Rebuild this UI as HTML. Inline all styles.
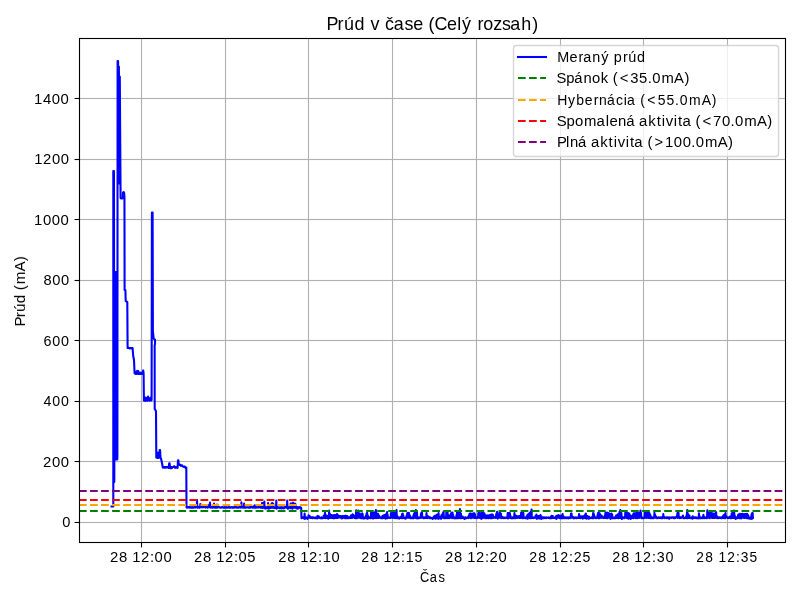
<!DOCTYPE html>
<html><head><meta charset="utf-8"><title>Prúd v čase</title>
<style>html,body{margin:0;padding:0;background:#fff;overflow:hidden}svg{display:block}text{font-family:"Liberation Sans",sans-serif}</style>
</head><body>
<svg width="800" height="600" viewBox="0 0 800 600">
<rect width="800" height="600" fill="#fff"/>
<g stroke="#b0b0b0" stroke-width="1.111">
<line x1="79.5" y1="522.5" x2="785.5" y2="522.5" stroke="#fafafa" stroke-width="3" shape-rendering="crispEdges"/><line x1="79.5" y1="522.5" x2="785.5" y2="522.5" stroke-width="1" shape-rendering="crispEdges"/>
<line x1="79.5" y1="461.5" x2="785.5" y2="461.5" stroke="#fafafa" stroke-width="3" shape-rendering="crispEdges"/><line x1="79.5" y1="461.5" x2="785.5" y2="461.5" stroke-width="1" shape-rendering="crispEdges"/>
<line x1="79.5" y1="401.5" x2="785.5" y2="401.5" stroke="#fafafa" stroke-width="3" shape-rendering="crispEdges"/><line x1="79.5" y1="401.5" x2="785.5" y2="401.5" stroke-width="1" shape-rendering="crispEdges"/>
<line x1="79.5" y1="340.5" x2="785.5" y2="340.5" stroke="#fafafa" stroke-width="3" shape-rendering="crispEdges"/><line x1="79.5" y1="340.5" x2="785.5" y2="340.5" stroke-width="1" shape-rendering="crispEdges"/>
<line x1="79.5" y1="280.5" x2="785.5" y2="280.5" stroke="#fafafa" stroke-width="3" shape-rendering="crispEdges"/><line x1="79.5" y1="280.5" x2="785.5" y2="280.5" stroke-width="1" shape-rendering="crispEdges"/>
<line x1="79.5" y1="219.5" x2="785.5" y2="219.5" stroke="#fafafa" stroke-width="3" shape-rendering="crispEdges"/><line x1="79.5" y1="219.5" x2="785.5" y2="219.5" stroke-width="1" shape-rendering="crispEdges"/>
<line x1="79.5" y1="159.5" x2="785.5" y2="159.5" stroke="#fafafa" stroke-width="3" shape-rendering="crispEdges"/><line x1="79.5" y1="159.5" x2="785.5" y2="159.5" stroke-width="1" shape-rendering="crispEdges"/>
<line x1="79.5" y1="98.5" x2="785.5" y2="98.5" stroke="#fafafa" stroke-width="3" shape-rendering="crispEdges"/><line x1="79.5" y1="98.5" x2="785.5" y2="98.5" stroke-width="1" shape-rendering="crispEdges"/>
<line x1="141.5" y1="38.5" x2="141.5" y2="542.5"/>
<line x1="225.5" y1="38.5" x2="225.5" y2="542.5"/>
<line x1="308.5" y1="38.5" x2="308.5" y2="542.5"/>
<line x1="392.5" y1="38.5" x2="392.5" y2="542.5"/>
<line x1="476.5" y1="38.5" x2="476.5" y2="542.5"/>
<line x1="560.5" y1="38.5" x2="560.5" y2="542.5"/>
<line x1="643.5" y1="38.5" x2="643.5" y2="542.5"/>
<line x1="727.5" y1="38.5" x2="727.5" y2="542.5"/>
</g>
<g stroke="#000" stroke-width="1.111">
<line x1="141.5" y1="542.5" x2="141.5" y2="547.45"/>
<line x1="225.5" y1="542.5" x2="225.5" y2="547.45"/>
<line x1="308.5" y1="542.5" x2="308.5" y2="547.45"/>
<line x1="392.5" y1="542.5" x2="392.5" y2="547.45"/>
<line x1="476.5" y1="542.5" x2="476.5" y2="547.45"/>
<line x1="560.5" y1="542.5" x2="560.5" y2="547.45"/>
<line x1="643.5" y1="542.5" x2="643.5" y2="547.45"/>
<line x1="727.5" y1="542.5" x2="727.5" y2="547.45"/>
<line x1="74.55" y1="522.5" x2="79.5" y2="522.5"/>
<line x1="74.55" y1="461.5" x2="79.5" y2="461.5"/>
<line x1="74.55" y1="401.5" x2="79.5" y2="401.5"/>
<line x1="74.55" y1="340.5" x2="79.5" y2="340.5"/>
<line x1="74.55" y1="280.5" x2="79.5" y2="280.5"/>
<line x1="74.55" y1="219.5" x2="79.5" y2="219.5"/>
<line x1="74.55" y1="159.5" x2="79.5" y2="159.5"/>
<line x1="74.55" y1="98.5" x2="79.5" y2="98.5"/>
</g>
<path d="M111.50,506.50 L113.30,506.50 L113.30,171.00 L113.95,171.00 L114.30,482.00 L114.60,272.00 L114.90,459.50 L115.20,272.00 L115.50,459.50 L115.80,272.00 L116.10,459.50 L116.40,272.00 L116.70,459.50 L117.00,272.00 L117.30,459.50 L117.40,456.00 L117.60,61.00 L118.10,61.00 L118.40,183.50 L118.90,66.50 L119.30,183.50 L119.80,76.50 L120.60,198.00 L121.20,198.60 L122.00,198.40 L122.75,198.30 L123.05,192.50 L123.60,192.00 L124.10,192.60 L124.45,196.50 L124.60,290.00 L125.40,290.00 L125.70,301.00 L126.60,301.50 L127.30,302.00 L127.60,348.00 L128.50,347.50 L129.50,348.50 L130.50,348.00 L131.50,348.50 L132.60,348.00 L133.20,356.00 L134.00,360.00 L134.60,373.50 L135.20,372.30 L135.70,374.00 L136.20,371.80 L136.70,374.00 L137.20,370.80 L137.70,373.80 L138.20,371.00 L138.70,374.00 L139.20,372.40 L139.80,374.00 L140.40,372.60 L141.00,373.90 L141.60,372.80 L142.20,374.00 L142.80,372.50 L143.20,370.40 L143.60,373.00 L143.90,400.50 L144.50,399.00 L145.10,401.00 L145.70,397.50 L146.30,400.50 L146.90,398.00 L147.50,400.80 L148.10,396.50 L148.70,400.20 L149.30,398.80 L149.90,400.60 L150.50,397.80 L151.10,400.50 L151.60,400.00 L151.90,212.50 L152.60,212.50 L152.90,331.00 L153.70,338.60 L155.00,339.60 L155.05,343.60 L154.65,345.60 L154.70,409.00 L156.00,411.00 L156.30,457.50 L156.80,452.60 L157.20,458.00 L157.70,452.90 L158.20,458.00 L158.70,453.20 L159.20,457.60 L159.60,450.00 L160.10,450.00 L160.50,457.60 L161.00,458.60 L162.00,463.00 L162.80,467.50 L163.20,467.32 L163.60,467.10 L164.00,467.75 L164.40,466.99 L164.80,467.60 L165.20,467.38 L165.60,466.98 L166.00,467.56 L166.40,466.95 L166.80,467.46 L167.20,466.99 L167.60,467.02 L168.00,467.45 L168.40,467.97 L168.80,467.06 L169.20,463.20 L169.60,463.20 L170.00,468.13 L170.40,467.65 L170.80,467.42 L171.20,468.17 L171.60,466.96 L172.00,468.02 L172.40,467.28 L172.80,467.09 L173.20,467.05 L173.60,467.00 L174.00,466.20 L174.40,466.20 L174.80,467.66 L175.20,467.73 L175.60,467.38 L176.00,467.61 L176.40,466.98 L176.80,466.98 L177.20,467.17 L177.60,467.78 L178.00,460.30 L178.40,460.30 L178.80,464.30 L179.20,464.78 L179.60,464.46 L180.00,464.89 L180.40,465.25 L180.80,465.65 L181.20,465.31 L181.60,465.25 L182.00,465.32 L182.40,466.14 L182.80,466.42 L183.20,466.43 L183.60,466.50 L184.00,466.91 L184.40,466.75 L184.80,466.55 L185.20,467.25 L185.60,468.19 L186.30,467.50 L186.50,507.30 L187.00,507.61 L187.28,507.18 L187.56,507.26 L187.84,507.48 L188.12,506.97 L188.40,507.32 L188.68,507.08 L188.96,507.04 L189.24,507.00 L189.52,507.56 L189.80,507.05 L190.08,507.15 L190.36,507.26 L190.64,507.65 L190.92,507.01 L191.20,507.31 L191.48,507.39 L191.76,507.66 L192.04,507.61 L192.32,507.64 L192.60,507.17 L192.88,507.28 L193.16,507.24 L193.44,507.66 L193.72,507.72 L194.00,507.07 L194.28,507.09 L194.56,507.14 L194.84,507.14 L195.12,507.34 L195.40,507.42 L195.68,507.16 L195.96,506.95 L196.24,507.29 L196.52,507.25 L196.80,507.40 L197.00,499.94 L197.36,507.71 L197.64,507.50 L197.92,507.36 L198.20,507.44 L198.48,507.49 L198.76,506.99 L199.04,507.67 L199.32,507.57 L199.60,507.65 L199.88,507.59 L200.16,507.26 L200.35,504.14 L200.75,504.34 L201.00,507.27 L201.30,505.44 L201.56,507.03 L201.80,506.34 L202.12,507.46 L202.40,507.00 L202.68,507.00 L202.96,507.12 L203.24,507.08 L203.52,507.22 L203.80,506.99 L204.08,506.95 L204.36,507.07 L204.64,507.03 L204.92,507.24 L205.20,506.97 L205.48,507.65 L205.76,506.92 L206.04,507.07 L206.32,506.38 L206.60,507.23 L206.88,506.08 L207.16,507.05 L207.44,506.02 L207.72,507.74 L208.00,505.53 L208.28,507.34 L208.56,505.04 L208.84,507.03 L209.12,504.86 L209.40,507.16 L209.68,504.80 L210.00,502.54 L210.24,507.08 L210.52,506.97 L210.80,507.71 L211.08,507.37 L211.36,507.07 L211.64,507.38 L211.92,506.97 L212.20,507.37 L212.48,507.73 L212.76,507.64 L213.04,507.51 L213.32,507.16 L213.60,507.24 L213.88,507.08 L214.05,503.64 L214.44,507.57 L214.72,507.38 L215.00,507.57 L215.28,507.21 L215.56,507.13 L215.84,507.60 L216.12,507.74 L216.40,507.63 L216.68,507.59 L217.05,504.64 L217.24,507.60 L217.52,507.54 L217.80,507.13 L218.08,507.36 L218.36,507.23 L218.64,506.97 L218.92,506.97 L219.20,507.17 L219.48,507.16 L219.76,507.50 L220.04,507.72 L220.32,507.31 L220.60,507.70 L220.88,507.74 L221.16,507.71 L221.44,507.24 L221.72,507.13 L222.00,507.13 L222.28,507.11 L222.56,507.11 L222.84,507.45 L223.12,507.67 L223.40,507.62 L223.68,507.33 L223.96,507.47 L224.24,507.59 L224.52,507.02 L224.80,507.48 L225.08,507.68 L225.36,507.58 L225.64,507.55 L225.92,507.33 L226.20,507.09 L226.48,507.58 L226.76,507.22 L227.04,507.59 L227.32,507.73 L227.60,507.27 L227.88,507.27 L228.16,507.71 L228.44,507.53 L228.72,507.09 L229.00,507.05 L229.28,507.07 L229.56,507.67 L229.84,507.60 L230.12,507.07 L230.40,507.61 L230.68,507.73 L230.96,507.48 L231.24,507.23 L231.52,507.39 L231.80,507.05 L232.08,506.96 L232.36,507.73 L232.64,507.47 L232.92,507.37 L233.20,507.70 L233.48,507.30 L233.76,507.65 L234.04,507.61 L234.32,507.12 L234.60,507.15 L234.88,507.18 L235.16,507.14 L235.44,507.42 L235.72,507.16 L236.00,507.29 L236.28,507.05 L236.56,507.68 L236.84,507.23 L237.12,507.32 L237.40,507.42 L237.68,507.67 L237.96,507.29 L238.24,507.68 L238.52,507.35 L238.80,507.38 L239.08,507.37 L239.36,506.96 L239.64,507.30 L239.92,507.10 L240.20,506.95 L240.48,507.59 L240.76,507.09 L241.04,507.33 L241.40,502.34 L241.60,507.53 L241.88,507.40 L242.16,507.21 L242.44,507.36 L242.72,507.39 L243.00,507.58 L243.28,507.03 L243.56,507.40 L243.84,507.15 L244.10,503.64 L244.40,507.17 L244.68,507.57 L244.96,507.36 L245.24,507.40 L245.52,507.56 L245.80,507.68 L246.08,507.30 L246.36,507.44 L246.64,507.35 L246.92,507.36 L247.20,507.50 L247.48,507.31 L247.76,507.38 L248.04,507.33 L248.32,507.70 L248.60,507.51 L248.88,507.65 L249.16,507.70 L249.44,507.16 L249.72,507.40 L250.00,507.70 L250.28,507.62 L250.56,507.06 L250.84,507.05 L251.12,507.30 L251.40,507.01 L251.68,507.14 L251.96,507.01 L252.24,507.49 L252.52,507.58 L252.80,507.67 L253.08,506.53 L253.36,507.52 L253.64,506.33 L253.92,507.06 L254.20,505.99 L254.48,507.72 L254.76,505.20 L255.04,507.71 L255.32,506.44 L255.60,507.34 L255.88,507.74 L256.16,507.62 L256.44,507.08 L256.72,507.30 L257.00,507.36 L257.28,507.22 L257.56,507.11 L257.84,507.20 L258.12,507.53 L258.40,506.97 L258.68,507.39 L258.96,507.30 L259.24,506.96 L259.52,507.22 L259.80,506.97 L260.08,507.36 L260.36,506.36 L260.64,507.74 L260.92,506.39 L261.20,507.73 L261.48,505.72 L261.76,507.16 L262.04,502.96 L262.32,508.06 L262.60,503.15 L262.88,507.68 L263.16,503.07 L263.44,507.07 L263.72,503.23 L264.00,507.95 L264.35,501.44 L264.56,507.50 L264.84,506.62 L265.12,507.70 L265.40,508.59 L265.68,507.00 L265.96,508.10 L266.24,508.18 L266.52,507.85 L266.80,507.62 L267.08,508.13 L267.36,507.18 L267.64,507.51 L267.92,508.06 L268.10,503.14 L268.48,508.12 L268.76,508.67 L269.04,507.30 L269.32,508.37 L269.60,507.50 L269.88,507.22 L270.16,507.52 L270.44,507.71 L270.72,507.97 L271.00,507.61 L271.28,507.62 L271.56,503.57 L271.84,507.78 L272.12,503.16 L272.40,507.08 L272.68,503.31 L272.96,507.72 L273.24,503.69 L273.52,507.15 L273.80,507.60 L274.08,507.26 L274.36,508.11 L274.64,507.42 L274.92,507.69 L275.20,508.00 L275.48,507.37 L275.76,507.48 L276.04,508.28 L276.30,500.44 L276.60,508.64 L276.88,508.45 L277.16,507.66 L277.44,507.54 L277.72,507.06 L278.00,507.35 L278.28,507.59 L278.56,507.42 L278.84,507.50 L279.12,507.63 L279.40,508.22 L279.68,507.40 L279.96,507.45 L280.24,508.30 L280.52,507.55 L280.80,507.38 L281.08,507.00 L281.36,507.74 L281.64,508.45 L281.92,507.73 L282.20,507.26 L282.48,507.50 L282.76,507.44 L283.04,507.59 L283.32,508.34 L283.60,507.55 L283.88,507.49 L284.16,508.25 L284.44,507.32 L284.72,507.04 L285.00,507.11 L285.28,506.93 L285.56,506.96 L285.84,506.58 L286.12,507.72 L286.40,506.01 L286.68,507.12 L286.96,507.12 L287.20,500.44 L287.52,507.06 L287.80,508.69 L288.08,507.36 L288.36,508.54 L288.64,507.74 L288.92,507.34 L289.20,507.83 L289.48,507.20 L289.76,506.95 L290.04,506.84 L290.32,507.05 L290.60,503.58 L290.88,508.33 L291.16,503.44 L291.44,507.75 L291.72,503.45 L292.00,507.73 L292.28,503.35 L292.56,508.67 L292.84,503.44 L293.05,502.64 L293.40,507.16 L293.68,503.45 L293.96,507.25 L294.24,503.82 L294.52,507.60 L294.80,503.86 L295.08,507.70 L295.36,503.79 L295.64,506.99 L295.92,506.45 L296.20,507.55 L296.48,508.23 L296.76,507.05 L297.04,508.14 L297.32,508.59 L297.60,507.19 L297.88,507.78 L298.16,507.12 L298.44,508.38 L298.72,507.75 L299.00,507.53 L299.28,507.79 L299.56,507.16 L299.84,507.66 L300.12,507.28 L300.40,507.28 L300.70,507.50 L301.20,507.80 L301.50,518.30 L301.90,517.80 L302.18,517.61 L302.46,517.54 L302.74,517.38 L303.02,517.91 L303.30,517.48 L303.58,517.51 L303.86,517.72 L304.14,518.14 L304.42,518.85 L304.60,513.64 L304.98,518.19 L305.26,518.62 L305.54,518.22 L305.82,518.15 L306.10,517.51 L306.38,517.41 L306.66,517.97 L306.94,518.01 L307.22,518.05 L307.50,518.90 L307.78,517.49 L308.06,517.93 L308.34,517.38 L308.62,515.20 L308.90,517.37 L309.18,515.70 L309.46,517.66 L309.74,516.02 L310.02,517.57 L310.30,517.93 L310.58,517.75 L310.86,517.51 L311.14,517.99 L311.42,517.27 L311.70,517.96 L311.98,517.52 L312.26,518.22 L312.54,517.29 L312.82,517.69 L313.10,517.46 L313.38,518.03 L313.66,517.47 L313.94,517.58 L314.22,517.49 L314.50,518.05 L314.78,518.25 L315.06,517.45 L315.34,517.69 L315.62,518.25 L315.90,517.66 L316.18,518.27 L316.46,517.30 L316.74,517.66 L317.02,518.18 L317.30,518.30 L317.58,515.91 L317.86,518.23 L318.14,516.36 L318.42,517.65 L318.70,516.36 L318.98,517.25 L319.26,517.62 L319.54,517.38 L319.82,517.47 L320.10,518.11 L320.38,517.70 L320.66,517.75 L320.94,518.22 L321.22,517.63 L321.50,517.28 L321.78,518.10 L322.06,518.39 L322.34,518.22 L322.62,518.03 L322.90,517.61 L323.18,517.90 L323.46,518.00 L323.74,515.57 L324.02,518.04 L324.30,515.18 L324.58,517.28 L324.86,514.35 L325.00,512.84 L325.42,518.25 L325.70,514.86 L325.98,517.77 L326.26,516.33 L326.54,518.03 L326.82,516.13 L327.10,517.59 L327.38,516.14 L327.66,517.33 L327.94,515.73 L328.22,518.74 L328.50,515.45 L328.78,518.18 L329.10,510.64 L329.34,517.53 L329.62,513.84 L329.90,518.00 L330.18,514.24 L330.46,517.90 L330.74,514.87 L331.02,517.95 L331.30,514.92 L331.58,517.85 L331.86,515.03 L332.14,517.51 L332.42,515.42 L332.70,517.86 L332.98,515.46 L333.26,517.78 L333.54,515.26 L333.82,518.29 L334.10,515.06 L334.38,518.13 L334.66,514.94 L334.94,517.38 L335.22,517.86 L335.50,517.64 L335.78,515.02 L336.06,518.07 L336.34,515.26 L336.62,517.90 L337.00,514.04 L337.18,517.64 L337.46,515.24 L337.74,517.88 L338.02,515.31 L338.30,517.59 L338.58,515.72 L338.86,517.46 L339.14,515.78 L339.42,517.36 L339.70,516.16 L339.98,517.35 L340.26,516.06 L340.54,517.55 L340.82,517.58 L341.10,517.63 L341.38,518.30 L341.66,517.46 L341.94,515.93 L342.22,518.20 L342.50,516.17 L342.78,518.18 L343.06,515.94 L343.34,517.83 L343.62,517.34 L343.90,517.64 L344.18,516.07 L344.46,517.80 L344.74,516.12 L345.02,518.10 L345.30,515.83 L345.58,518.24 L345.86,515.72 L346.14,518.22 L346.42,517.90 L346.70,517.42 L346.98,516.16 L347.26,518.14 L347.54,516.16 L347.82,517.67 L348.10,517.65 L348.38,517.51 L348.66,518.19 L348.94,517.84 L349.22,517.29 L349.50,517.37 L349.78,517.83 L350.06,517.57 L350.34,517.86 L350.62,517.94 L350.90,515.55 L351.18,517.90 L351.46,515.66 L351.74,518.07 L352.02,515.10 L352.30,517.36 L352.58,514.32 L352.86,517.71 L353.14,514.81 L353.42,517.34 L353.70,515.35 L353.98,517.31 L354.26,515.77 L354.54,517.39 L354.82,518.02 L355.10,517.45 L355.38,515.97 L355.66,518.21 L355.94,513.84 L356.20,510.34 L356.50,517.32 L356.78,511.00 L357.06,518.19 L357.34,511.01 L357.62,517.78 L357.90,513.37 L358.20,510.54 L358.46,517.78 L358.74,513.33 L359.02,517.42 L359.30,513.76 L359.58,517.43 L359.86,513.50 L360.14,517.92 L360.42,517.83 L360.70,518.18 L360.98,517.91 L361.26,518.09 L361.54,517.86 L361.82,518.05 L362.10,513.36 L362.38,517.30 L362.66,513.92 L362.94,518.28 L363.22,517.95 L363.50,518.45 L363.78,517.90 L364.06,517.79 L364.34,517.39 L364.62,518.35 L364.90,517.62 L365.18,517.63 L365.46,517.86 L365.74,517.46 L366.02,515.48 L366.30,518.23 L366.58,513.60 L366.86,517.92 L367.14,512.85 L367.42,518.80 L367.70,515.15 L367.98,517.93 L368.26,518.23 L368.54,517.51 L368.82,517.30 L369.10,517.68 L369.38,517.31 L369.66,517.26 L369.94,518.24 L370.22,517.46 L370.50,517.78 L370.78,518.10 L371.06,512.78 L371.34,517.30 L371.62,512.87 L371.90,517.26 L372.18,512.72 L372.46,518.03 L372.74,512.50 L373.02,518.58 L373.30,512.86 L373.58,518.14 L373.86,512.77 L374.14,517.71 L374.42,512.60 L374.70,517.92 L374.98,512.97 L375.26,517.27 L375.54,512.89 L375.90,509.94 L376.10,518.24 L376.38,513.42 L376.66,517.59 L376.94,517.91 L377.22,517.95 L377.50,513.87 L377.78,517.98 L378.06,513.87 L378.34,517.85 L378.62,515.11 L378.90,517.33 L379.18,515.68 L379.46,517.36 L379.74,517.61 L380.02,517.28 L380.30,517.98 L380.58,517.98 L380.86,517.32 L381.14,517.63 L381.42,518.11 L381.70,517.32 L381.98,518.21 L382.26,517.36 L382.54,515.91 L382.82,518.14 L383.10,516.11 L383.38,517.91 L383.66,515.30 L383.94,518.05 L384.22,515.14 L384.50,517.27 L384.78,514.95 L385.06,517.64 L385.34,517.78 L385.62,518.64 L385.90,514.30 L386.18,517.61 L386.46,513.63 L386.74,518.16 L387.10,512.14 L387.30,518.11 L387.58,514.54 L387.86,518.05 L388.14,517.25 L388.42,517.77 L388.70,517.44 L388.98,517.61 L389.26,517.52 L389.54,517.55 L389.82,517.98 L390.10,517.37 L390.38,517.33 L390.66,517.98 L390.94,513.13 L391.22,517.67 L391.50,517.34 L391.78,517.28 L392.06,512.95 L392.34,517.78 L392.62,517.50 L392.90,517.81 L393.18,512.75 L393.46,517.62 L393.74,512.85 L394.02,517.95 L394.30,512.58 L394.58,518.06 L394.86,512.58 L395.14,518.18 L395.42,512.46 L395.70,517.99 L395.98,512.35 L396.26,517.51 L396.50,509.94 L396.82,517.80 L397.10,515.89 L397.38,518.27 L397.66,516.72 L397.94,517.36 L398.22,518.28 L398.50,518.02 L398.78,517.46 L399.06,517.36 L399.34,518.63 L399.62,518.08 L399.90,517.78 L400.18,517.74 L400.46,517.88 L400.74,518.03 L401.02,516.65 L401.30,518.04 L401.58,516.68 L401.86,518.17 L402.14,513.75 L402.42,517.96 L402.70,513.43 L402.98,517.91 L403.26,515.03 L403.54,518.00 L403.82,517.51 L404.10,517.73 L404.38,517.68 L404.66,518.23 L404.94,517.94 L405.22,517.66 L405.50,518.73 L405.78,517.42 L406.06,518.24 L406.34,517.36 L406.62,515.71 L406.90,517.79 L407.18,513.35 L407.46,517.68 L407.74,512.85 L408.02,517.66 L408.30,513.03 L408.58,517.62 L408.86,512.68 L409.14,517.26 L409.42,514.72 L409.70,517.62 L409.98,515.88 L410.26,518.24 L410.54,517.48 L410.82,517.66 L411.10,517.39 L411.38,518.10 L411.66,517.74 L411.94,517.49 L412.22,517.62 L412.50,518.11 L412.78,517.74 L413.06,517.83 L413.34,515.77 L413.62,518.14 L413.90,513.93 L414.18,517.70 L414.46,513.15 L414.74,517.55 L415.02,512.64 L415.30,517.70 L415.58,512.17 L415.90,510.04 L416.14,518.23 L416.42,512.37 L416.70,518.20 L416.98,512.67 L417.26,518.36 L417.54,517.94 L417.82,517.36 L418.10,517.50 L418.38,517.61 L418.66,518.20 L418.94,517.43 L419.22,517.89 L419.50,517.95 L419.78,518.08 L420.06,517.46 L420.34,517.81 L420.62,517.71 L420.90,513.85 L421.18,517.50 L421.46,512.48 L421.74,517.74 L422.02,512.74 L422.30,517.82 L422.58,517.26 L422.86,517.74 L423.14,517.95 L423.42,517.64 L423.70,518.26 L423.98,517.92 L424.26,517.28 L424.54,517.97 L424.82,517.60 L425.10,517.79 L425.38,517.29 L425.66,517.91 L425.94,517.63 L426.22,517.80 L426.50,513.10 L426.78,517.69 L427.06,515.72 L427.34,518.12 L427.62,516.09 L427.90,517.78 L428.18,516.59 L428.46,517.60 L428.74,516.67 L429.02,517.92 L429.30,517.29 L429.58,518.18 L429.86,517.30 L430.14,517.26 L430.42,518.22 L430.70,517.94 L430.98,518.21 L431.26,517.90 L431.54,517.98 L431.82,517.97 L432.10,517.95 L432.38,518.05 L432.66,518.89 L432.94,518.21 L433.22,517.64 L433.50,518.08 L433.78,516.47 L434.06,517.69 L434.34,516.46 L434.62,518.23 L434.90,515.88 L435.18,517.37 L435.46,516.11 L435.74,518.62 L436.02,515.74 L436.30,518.28 L436.58,514.86 L436.86,517.93 L437.14,514.43 L437.42,517.26 L437.70,514.62 L437.98,517.34 L438.26,518.85 L438.60,512.94 L438.82,517.50 L439.10,517.45 L439.38,518.06 L439.66,518.15 L439.94,517.34 L440.22,517.99 L440.50,518.23 L440.78,518.26 L441.06,518.81 L441.34,515.21 L441.62,517.58 L441.90,515.03 L442.18,517.76 L442.46,514.12 L442.74,517.71 L443.02,512.74 L443.30,517.63 L443.58,511.49 L443.86,517.66 L444.14,518.07 L444.42,517.56 L444.70,517.99 L444.98,517.60 L445.26,518.12 L445.54,517.57 L445.82,517.65 L446.10,517.88 L446.38,511.35 L446.66,517.25 L446.94,512.27 L447.22,518.11 L447.50,511.24 L447.78,517.29 L448.06,515.11 L448.34,517.85 L448.62,518.10 L448.90,518.21 L449.18,515.47 L449.46,518.09 L449.74,515.60 L450.02,517.50 L450.30,515.42 L450.58,517.47 L450.86,513.81 L451.14,517.73 L451.42,512.90 L451.70,517.49 L451.98,518.18 L452.26,517.75 L452.54,512.56 L452.82,517.44 L453.10,514.78 L453.38,517.67 L453.66,517.41 L453.94,518.30 L454.22,517.36 L454.50,518.08 L454.78,517.88 L455.06,518.37 L455.34,518.29 L455.62,517.76 L455.90,517.52 L456.18,517.70 L456.46,515.03 L456.74,518.26 L457.02,512.56 L457.30,517.44 L457.58,512.77 L457.86,518.16 L458.14,518.21 L458.42,517.88 L458.70,513.02 L458.98,517.52 L459.26,513.01 L459.54,517.95 L459.90,509.14 L460.10,517.72 L460.38,518.29 L460.66,517.29 L460.94,513.54 L461.22,518.20 L461.50,516.44 L461.78,518.00 L462.06,517.31 L462.34,518.04 L462.62,516.48 L462.90,517.87 L463.18,517.36 L463.46,517.52 L463.74,517.76 L464.02,517.50 L464.30,518.85 L464.58,519.00 L464.86,517.48 L465.14,518.16 L465.42,517.40 L465.70,517.35 L465.98,518.13 L466.26,517.72 L466.54,518.11 L466.82,517.91 L467.10,517.48 L467.38,518.00 L467.66,517.40 L467.94,517.53 L468.22,517.41 L468.50,518.13 L468.78,515.83 L469.06,517.58 L469.34,514.02 L469.62,517.31 L469.90,513.54 L470.18,517.75 L470.46,513.52 L470.74,517.63 L471.02,518.22 L471.30,517.55 L471.58,513.79 L471.86,517.56 L472.14,513.82 L472.42,517.61 L472.70,513.82 L472.98,517.80 L473.26,513.84 L473.54,517.48 L473.82,513.39 L474.10,518.06 L474.38,513.31 L474.66,517.34 L474.94,514.17 L475.22,517.47 L475.50,517.99 L475.78,517.86 L476.06,517.32 L476.34,517.68 L476.62,517.31 L476.90,517.60 L477.18,518.16 L477.46,517.27 L477.74,517.75 L478.02,517.53 L478.30,513.15 L478.58,517.42 L478.86,512.90 L479.14,517.80 L479.42,512.94 L479.70,518.00 L479.98,517.59 L480.26,517.65 L480.54,513.34 L480.82,518.25 L481.10,513.15 L481.38,519.03 L481.66,512.99 L481.94,517.36 L482.22,512.96 L482.50,517.35 L482.78,513.00 L483.06,517.88 L483.34,513.46 L483.62,517.36 L483.90,513.12 L484.18,517.38 L484.46,513.44 L484.74,517.38 L485.02,514.91 L485.30,518.15 L485.58,515.25 L485.86,517.42 L486.14,517.66 L486.42,518.13 L486.70,515.52 L486.98,518.07 L487.26,515.23 L487.54,517.71 L487.82,515.65 L488.10,518.11 L488.38,515.45 L488.66,518.26 L488.94,515.39 L489.22,517.91 L489.50,515.17 L489.78,517.70 L490.06,514.96 L490.34,518.27 L490.62,517.91 L490.90,518.18 L491.18,514.52 L491.46,517.53 L491.74,514.47 L492.02,518.22 L492.30,514.45 L492.58,517.71 L492.86,514.90 L493.14,517.93 L493.42,516.84 L493.70,517.79 L493.98,517.74 L494.26,517.41 L494.54,517.39 L494.82,517.68 L495.10,517.51 L495.38,517.82 L495.66,516.31 L495.94,517.93 L496.22,514.12 L496.50,517.83 L496.78,512.95 L497.10,511.84 L497.34,517.50 L497.62,512.77 L497.90,518.60 L498.18,517.50 L498.46,517.77 L498.74,517.56 L499.02,517.42 L499.30,517.71 L499.58,517.66 L499.86,512.88 L500.14,517.49 L500.42,512.97 L500.70,517.60 L500.98,513.71 L501.26,518.14 L501.54,516.40 L501.82,518.03 L502.10,516.71 L502.38,517.99 L502.66,517.38 L502.94,517.25 L503.22,517.87 L503.50,518.26 L503.78,517.69 L504.06,518.17 L504.34,517.65 L504.62,517.73 L504.90,517.56 L505.18,517.83 L505.46,517.59 L505.74,518.14 L506.02,517.72 L506.30,517.57 L506.58,517.85 L506.86,517.34 L507.14,516.65 L507.42,518.13 L507.70,512.99 L507.98,518.38 L508.26,512.99 L508.54,518.22 L508.82,513.25 L509.10,517.79 L509.38,512.84 L509.66,517.63 L509.94,513.21 L510.22,517.96 L510.50,515.66 L510.78,517.67 L511.06,517.85 L511.34,518.26 L511.62,517.71 L511.90,518.30 L512.18,517.81 L512.46,517.43 L512.74,518.28 L513.02,517.79 L513.30,518.19 L513.58,518.11 L513.86,517.69 L514.14,517.55 L514.42,512.95 L514.70,517.44 L514.98,515.13 L515.26,518.29 L515.54,515.86 L515.82,518.08 L516.10,515.84 L516.38,517.57 L516.66,516.46 L516.94,517.46 L517.22,516.38 L517.50,517.93 L517.78,517.85 L518.06,517.38 L518.34,516.30 L518.62,517.36 L518.90,516.73 L519.18,517.89 L519.46,516.15 L519.74,518.06 L520.02,516.25 L520.30,517.43 L520.58,516.49 L520.86,517.86 L521.14,512.67 L521.42,517.31 L521.70,513.02 L521.98,517.71 L522.26,512.47 L522.54,518.23 L522.82,512.98 L523.10,518.11 L523.38,513.02 L523.66,517.77 L523.94,517.51 L524.22,518.00 L524.50,517.57 L524.78,517.76 L525.06,517.51 L525.34,517.63 L525.62,518.27 L525.90,517.84 L526.18,517.81 L526.46,517.67 L526.74,516.19 L527.02,517.62 L527.30,515.21 L527.58,518.81 L527.86,514.57 L528.14,517.99 L528.42,514.42 L528.70,517.38 L528.98,513.84 L529.26,517.42 L529.54,513.03 L529.82,518.26 L530.10,517.78 L530.38,517.73 L530.66,511.72 L530.94,518.19 L531.22,511.06 L531.60,509.54 L531.78,517.89 L532.06,517.38 L532.34,517.82 L532.62,518.06 L532.90,517.94 L533.18,517.58 L533.46,517.34 L533.74,518.14 L534.02,517.95 L534.30,517.84 L534.58,517.78 L534.86,517.32 L535.14,517.49 L535.42,516.07 L535.70,517.67 L535.98,516.17 L536.26,518.15 L536.40,514.44 L536.82,518.83 L537.10,516.04 L537.38,517.68 L537.66,516.04 L537.94,518.14 L538.22,516.03 L538.50,517.37 L538.78,516.34 L539.06,518.46 L539.34,516.10 L539.62,518.57 L539.90,516.05 L540.18,518.13 L540.50,515.14 L540.74,518.00 L541.02,516.63 L541.30,518.93 L541.58,516.51 L541.86,517.30 L542.14,517.89 L542.42,517.51 L542.70,518.08 L542.98,518.21 L543.26,517.34 L543.54,517.66 L543.82,518.12 L544.10,517.34 L544.38,517.70 L544.66,517.98 L544.94,518.12 L545.22,517.73 L545.50,517.98 L545.78,517.79 L546.06,517.38 L546.34,517.30 L546.62,518.10 L546.90,517.82 L547.18,517.92 L547.46,517.51 L547.74,517.63 L548.02,517.46 L548.30,517.39 L548.58,517.95 L548.86,517.50 L549.14,517.72 L549.42,517.62 L549.70,518.18 L549.98,517.84 L550.26,518.11 L550.54,518.05 L550.82,517.95 L551.10,516.41 L551.38,518.12 L551.66,515.72 L551.94,517.47 L552.22,515.93 L552.50,517.99 L552.78,516.14 L553.06,517.74 L553.34,517.43 L553.62,517.26 L553.90,518.04 L554.18,518.00 L554.46,517.84 L554.74,517.76 L555.02,517.45 L555.30,517.26 L555.58,517.93 L555.86,518.23 L556.14,515.98 L556.42,518.89 L556.70,515.78 L556.98,517.45 L557.26,515.91 L557.54,517.43 L557.82,515.50 L558.10,517.59 L558.38,515.00 L558.66,517.64 L558.94,515.93 L559.22,517.50 L559.50,515.82 L559.78,518.11 L560.06,518.24 L560.34,517.77 L560.62,515.73 L560.90,517.33 L561.18,515.59 L561.46,518.27 L561.74,515.44 L562.02,517.45 L562.30,515.64 L562.60,514.04 L562.86,518.15 L563.14,516.20 L563.42,517.94 L563.70,516.53 L563.98,517.71 L564.26,518.12 L564.54,517.42 L564.82,517.72 L565.10,517.62 L565.38,517.34 L565.66,517.73 L565.94,518.20 L566.22,518.27 L566.50,517.90 L566.78,517.31 L567.06,517.89 L567.34,517.85 L567.62,517.75 L567.90,517.56 L568.18,518.48 L568.46,517.96 L568.74,517.34 L569.02,517.64 L569.30,517.69 L569.58,517.84 L569.86,517.37 L570.14,518.18 L570.42,517.37 L570.70,517.52 L570.98,513.53 L571.26,517.76 L571.54,513.45 L571.82,517.37 L572.10,516.29 L572.38,517.68 L572.66,516.85 L572.94,517.83 L573.22,518.04 L573.50,518.29 L573.78,517.36 L574.06,517.66 L574.34,518.26 L574.62,518.06 L574.90,518.06 L575.18,517.50 L575.46,517.27 L575.74,517.47 L576.02,517.99 L576.30,518.18 L576.58,518.17 L576.86,518.21 L577.14,517.43 L577.42,517.61 L577.70,517.96 L577.98,517.38 L578.26,518.02 L578.54,518.01 L578.82,516.24 L579.10,514.04 L579.38,517.83 L579.66,516.80 L579.94,517.96 L580.22,516.51 L580.50,518.13 L580.78,516.25 L581.06,517.37 L581.34,516.57 L581.62,517.55 L581.90,516.33 L582.18,518.17 L582.46,516.72 L582.74,518.59 L583.02,516.54 L583.30,518.17 L583.58,516.17 L583.86,518.11 L584.14,515.79 L584.42,517.42 L584.70,515.46 L584.98,517.89 L585.26,514.23 L585.54,518.19 L585.82,513.49 L586.10,517.63 L586.38,516.07 L586.66,518.76 L586.94,516.01 L587.22,517.73 L587.50,516.15 L587.78,517.95 L588.06,516.42 L588.34,517.53 L588.62,516.76 L588.90,518.74 L589.18,516.78 L589.46,518.06 L589.74,517.92 L590.02,517.55 L590.30,518.17 L590.58,517.97 L590.86,518.05 L591.14,517.78 L591.42,517.62 L591.70,517.68 L591.98,517.60 L592.26,518.29 L592.54,516.33 L592.82,517.50 L593.10,512.94 L593.38,518.16 L593.66,513.25 L593.94,517.57 L594.22,515.27 L594.50,517.57 L594.78,517.83 L595.06,517.61 L595.34,517.86 L595.62,517.44 L595.90,518.29 L596.18,518.06 L596.46,518.16 L596.74,517.76 L597.02,517.54 L597.30,517.27 L597.58,514.96 L597.86,517.48 L598.14,512.80 L598.42,518.16 L598.70,512.88 L598.98,518.26 L599.26,513.14 L599.54,518.17 L599.82,513.51 L600.10,517.81 L600.38,514.70 L600.66,517.47 L600.94,515.21 L601.22,517.68 L601.50,515.49 L601.78,517.68 L602.06,516.30 L602.34,517.77 L602.62,517.52 L602.90,517.26 L603.18,517.84 L603.46,517.31 L603.74,518.01 L604.02,517.35 L604.30,517.40 L604.58,517.34 L604.86,515.42 L605.14,517.87 L605.42,512.90 L605.70,517.60 L605.98,512.87 L606.26,518.05 L606.54,512.90 L606.82,518.28 L607.10,512.75 L607.38,518.24 L607.66,512.73 L607.94,517.94 L608.22,513.19 L608.50,517.49 L608.78,513.34 L609.06,517.39 L609.34,514.00 L609.62,517.44 L609.90,513.70 L610.18,517.44 L610.46,518.89 L610.74,517.50 L611.02,514.02 L611.30,517.61 L611.58,513.43 L611.86,518.20 L612.14,514.70 L612.42,517.93 L612.70,518.16 L612.98,517.84 L613.26,518.22 L613.54,517.91 L613.82,517.51 L614.10,517.71 L614.38,517.46 L614.66,517.92 L614.94,518.29 L615.22,517.85 L615.50,518.16 L615.78,518.04 L616.06,515.54 L616.34,517.76 L616.62,515.35 L616.90,517.88 L617.18,514.99 L617.46,517.47 L617.74,514.37 L618.02,518.16 L618.30,518.29 L618.58,517.28 L618.86,517.26 L619.14,517.41 L619.42,512.12 L619.70,517.97 L619.98,511.87 L620.30,509.94 L620.54,518.00 L620.82,517.28 L621.10,518.08 L621.38,513.00 L621.66,517.49 L621.94,519.04 L622.22,517.58 L622.50,517.38 L622.78,517.39 L623.06,517.44 L623.34,517.41 L623.62,517.78 L623.90,517.62 L624.18,518.21 L624.46,517.48 L624.74,518.02 L625.02,517.44 L625.30,512.47 L625.58,517.78 L625.86,512.66 L626.14,517.26 L626.42,512.77 L626.70,517.83 L626.98,518.17 L627.26,517.67 L627.54,513.20 L627.82,517.66 L628.10,512.93 L628.38,518.78 L628.66,517.52 L628.94,517.65 L629.22,513.49 L629.50,518.14 L629.78,517.30 L630.06,517.59 L630.34,515.22 L630.62,518.87 L630.90,517.79 L631.18,518.29 L631.46,516.11 L631.74,517.65 L632.02,515.94 L632.30,517.89 L632.58,515.95 L632.86,517.82 L633.14,514.37 L633.42,518.20 L633.70,513.35 L633.98,517.75 L634.26,513.43 L634.54,517.81 L634.82,513.37 L635.10,517.50 L635.38,513.17 L635.66,517.92 L635.94,518.16 L636.22,517.65 L636.50,512.99 L636.78,517.41 L637.06,513.14 L637.34,518.09 L637.62,512.99 L637.90,517.67 L638.18,513.21 L638.46,517.75 L638.74,513.03 L639.02,517.96 L639.30,513.08 L639.58,517.64 L639.86,512.65 L640.14,517.46 L640.50,510.64 L640.70,517.31 L640.98,512.86 L641.26,517.59 L641.54,518.13 L641.82,517.92 L642.10,517.46 L642.38,518.08 L642.66,517.64 L642.94,517.71 L643.22,518.00 L643.50,517.68 L643.78,518.10 L644.06,517.65 L644.34,517.45 L644.62,518.00 L644.90,512.64 L645.18,517.32 L645.46,512.76 L645.74,517.77 L646.02,512.46 L646.30,517.87 L646.58,512.94 L646.86,517.69 L647.14,517.71 L647.42,517.79 L647.70,512.88 L647.98,517.67 L648.26,512.77 L648.54,518.06 L648.82,512.57 L649.10,517.33 L649.38,512.96 L649.66,518.04 L649.94,514.25 L650.22,518.00 L650.50,515.17 L650.78,517.69 L651.06,518.30 L651.34,518.17 L651.62,517.60 L651.90,517.26 L652.18,517.54 L652.46,517.58 L652.74,518.15 L653.02,517.79 L653.30,517.30 L653.58,518.16 L653.86,517.52 L654.14,517.30 L654.42,512.72 L654.70,517.76 L654.98,514.46 L655.26,517.46 L655.54,515.90 L655.82,517.58 L656.10,516.52 L656.38,517.59 L656.66,518.09 L656.94,518.00 L657.22,517.87 L657.50,518.23 L657.78,518.17 L658.06,517.71 L658.34,517.30 L658.62,517.33 L658.90,517.44 L659.18,517.84 L659.46,517.77 L659.74,517.96 L660.02,517.47 L660.30,517.40 L660.58,517.47 L660.86,517.35 L661.14,518.25 L661.42,517.94 L661.70,518.20 L661.98,517.41 L662.26,517.98 L662.54,518.13 L662.82,516.61 L663.10,517.58 L663.30,514.04 L663.66,517.41 L663.94,517.59 L664.22,517.41 L664.50,518.28 L664.78,517.28 L665.06,517.92 L665.34,517.82 L665.62,517.74 L665.90,517.70 L666.18,517.37 L666.46,517.38 L666.74,518.30 L667.02,517.80 L667.30,517.62 L667.58,517.77 L667.86,517.35 L668.14,518.16 L668.42,517.82 L668.70,517.40 L668.98,518.14 L669.26,518.77 L669.54,517.61 L669.82,517.94 L670.10,517.60 L670.38,517.51 L670.66,517.44 L670.94,517.56 L671.22,517.84 L671.50,517.83 L671.78,517.88 L672.06,517.29 L672.34,517.35 L672.62,517.39 L672.90,517.62 L673.18,517.95 L673.46,517.43 L673.74,517.60 L674.02,518.17 L674.30,517.41 L674.58,518.17 L674.86,517.77 L675.14,517.37 L675.42,517.42 L675.70,517.78 L675.98,517.46 L676.26,517.46 L676.54,517.50 L676.82,516.06 L677.10,517.27 L677.38,513.06 L677.66,517.85 L677.94,512.89 L678.22,517.41 L678.50,512.68 L678.78,517.79 L679.06,517.34 L679.34,517.50 L679.62,518.07 L679.90,517.32 L680.18,517.88 L680.46,517.29 L680.74,517.98 L681.02,517.61 L681.30,517.73 L681.58,517.26 L681.86,517.68 L682.14,517.34 L682.42,516.52 L682.70,517.41 L682.98,515.65 L683.26,517.48 L683.54,518.27 L683.82,518.08 L684.10,517.77 L684.38,518.20 L684.66,517.92 L684.94,517.91 L685.22,518.08 L685.50,518.00 L685.78,517.42 L686.06,517.96 L686.34,515.99 L686.62,518.23 L686.90,513.80 L687.30,509.94 L687.46,518.09 L687.74,513.49 L688.02,518.07 L688.30,514.37 L688.58,517.81 L688.86,515.18 L689.14,518.08 L689.42,515.50 L689.70,517.46 L689.98,517.50 L690.26,518.20 L690.54,518.00 L690.82,518.07 L691.10,517.97 L691.38,518.12 L691.66,517.34 L691.94,518.13 L692.22,517.87 L692.50,518.69 L692.78,516.29 L693.06,518.10 L693.34,517.88 L693.62,517.60 L693.90,517.62 L694.18,517.90 L694.46,517.34 L694.74,517.99 L695.02,517.94 L695.30,517.38 L695.58,517.29 L695.86,517.44 L696.14,518.26 L696.42,517.49 L696.70,517.89 L696.98,517.66 L697.26,518.25 L697.54,518.29 L697.82,518.12 L698.10,518.47 L698.38,518.24 L698.66,518.10 L698.94,513.26 L699.22,517.83 L699.50,515.97 L699.78,518.23 L700.06,517.95 L700.34,517.91 L700.62,518.26 L700.90,517.94 L701.18,517.64 L701.46,517.96 L701.74,517.77 L702.02,518.28 L702.30,518.13 L702.58,517.84 L702.86,516.45 L703.14,518.02 L703.40,514.84 L703.70,517.29 L703.98,516.87 L704.26,518.19 L704.54,517.87 L704.82,517.30 L705.10,518.03 L705.38,517.54 L705.66,517.56 L705.94,517.69 L706.22,517.93 L706.50,517.96 L706.78,518.26 L707.06,517.98 L707.30,510.34 L707.62,517.42 L707.90,512.92 L708.18,517.61 L708.46,512.97 L708.74,517.42 L709.02,512.63 L709.30,517.31 L709.58,513.02 L709.86,518.26 L710.14,513.01 L710.42,517.46 L710.70,512.51 L710.98,517.52 L711.26,513.10 L711.54,517.53 L711.82,517.72 L712.10,517.92 L712.38,513.17 L712.66,518.04 L712.94,513.76 L713.22,518.04 L713.50,514.04 L713.78,517.81 L714.06,513.63 L714.34,518.06 L714.62,513.79 L714.90,517.62 L715.18,513.61 L715.46,517.32 L715.74,513.53 L716.10,512.14 L716.30,517.68 L716.58,515.86 L716.86,517.93 L717.14,516.48 L717.42,518.06 L717.70,518.24 L717.98,517.61 L718.26,518.10 L718.54,517.45 L718.82,517.81 L719.10,517.95 L719.38,517.39 L719.66,517.32 L719.94,517.78 L720.22,517.95 L720.50,517.67 L720.78,517.54 L721.06,518.08 L721.34,517.41 L721.62,518.04 L721.90,518.19 L722.18,518.03 L722.46,517.93 L722.74,516.52 L723.02,517.99 L723.30,515.58 L723.58,517.88 L723.86,515.14 L724.14,517.49 L724.42,515.15 L724.70,518.09 L724.98,514.16 L725.26,518.13 L725.50,512.94 L725.82,517.25 L726.10,516.27 L726.38,517.31 L726.66,516.78 L726.94,517.29 L727.22,517.37 L727.50,517.91 L727.78,517.60 L728.06,517.48 L728.34,517.47 L728.62,518.10 L728.90,517.28 L729.18,517.28 L729.46,517.70 L729.74,517.91 L730.02,516.56 L730.30,517.79 L730.58,516.77 L730.86,518.30 L731.14,517.60 L731.42,517.32 L731.70,513.17 L731.98,517.97 L732.26,513.13 L732.54,517.45 L732.82,513.04 L733.10,518.02 L733.38,513.04 L733.66,517.99 L733.94,513.18 L734.10,510.64 L734.50,517.99 L734.78,515.41 L735.06,518.22 L735.34,518.01 L735.62,518.95 L735.90,518.01 L736.18,517.53 L736.46,517.42 L736.74,518.29 L737.02,517.30 L737.30,517.62 L737.58,518.09 L737.86,517.36 L738.14,514.85 L738.42,517.74 L738.70,518.08 L738.98,518.11 L739.26,514.00 L739.54,517.78 L739.82,513.70 L740.10,518.20 L740.38,518.28 L740.66,518.02 L740.94,514.23 L741.22,518.50 L741.50,513.97 L741.78,517.26 L742.06,514.02 L742.34,517.30 L742.62,513.78 L742.90,517.59 L743.18,517.76 L743.46,517.47 L743.74,517.65 L744.02,517.87 L744.30,513.94 L744.58,517.86 L744.86,514.17 L745.14,517.32 L745.42,514.15 L745.70,517.67 L745.98,513.99 L746.26,517.93 L746.54,513.95 L746.82,518.20 L747.10,513.91 L747.38,518.29 L747.66,514.59 L747.94,518.12 L748.22,515.35 L748.50,517.35 L748.78,518.38 L749.06,517.50 L749.34,517.48 L749.62,518.23 L749.90,518.22 L750.18,518.88 L750.46,517.36 L750.74,518.00 L751.02,518.10 L751.30,517.79 L751.58,514.29 L751.86,518.95 L752.14,513.02 L752.42,517.78 L752.70,512.98 L752.90,518.00" fill="none" stroke="#0000ff" stroke-width="2.08" stroke-linejoin="round" stroke-linecap="square"/>
<line x1="79.0" y1="511" x2="785.5" y2="511" stroke="#008000" stroke-width="2.08" stroke-dasharray="7.7083 3.3333"/>
<line x1="79.0" y1="505" x2="785.5" y2="505" stroke="#ffa500" stroke-width="2.08" stroke-dasharray="7.7083 3.3333"/>
<line x1="79.0" y1="500" x2="785.5" y2="500" stroke="#ff0000" stroke-width="2.08" stroke-dasharray="7.7083 3.3333"/>
<line x1="79.0" y1="491" x2="785.5" y2="491" stroke="#800080" stroke-width="2.08" stroke-dasharray="7.7083 3.3333"/>
<rect x="79.5" y="38.5" width="706.0" height="504.0" fill="none" stroke="#000" stroke-width="1.111"/>
<rect x="513.5" y="45.5" width="265.0" height="111.0" rx="2.8" ry="2.8" fill="#fff" fill-opacity="0.8" stroke="#ccc" stroke-opacity="0.8" stroke-width="1.389"/>
<line x1="518.0" y1="57.0" x2="546.0" y2="57.0" stroke="#0000ff" stroke-width="2.08" stroke-linecap="square"/>
<line x1="518.0" y1="78.00" x2="546.0" y2="78.00" stroke="#008000" stroke-width="2.08" stroke-dasharray="7.7083 3.3333"/>
<line x1="518.0" y1="100.00" x2="546.0" y2="100.00" stroke="#ffa500" stroke-width="2.08" stroke-dasharray="7.7083 3.3333"/>
<line x1="518.0" y1="121.00" x2="546.0" y2="121.00" stroke="#ff0000" stroke-width="2.08" stroke-dasharray="7.7083 3.3333"/>
<line x1="518.0" y1="142.00" x2="546.0" y2="142.00" stroke="#800080" stroke-width="2.08" stroke-dasharray="7.7083 3.3333"/>
<g font-family="Liberation Sans, sans-serif" fill="#000" style="will-change:transform">
<text transform="translate(0,30) scale(1.0250,1)" x="318.42 329.36 335.50 345.78 355.87 361.47 370.63 375.68 384.20 394.62 403.26 413.07 418.04 423.82 436.05 446.17 450.80 459.96 465.85 471.53 481.32 489.83 497.80 508.54 519.23" y="0" font-size="17.5">Prúd v čase (Celý rozsah)</text>
<text transform="translate(0,582) scale(0.8881,1)" x="473.00 483.97 493.88" y="0" font-size="14.5">Čas</text>
<text transform="translate(25,325.90) rotate(-90) scale(1.0444,1)" x="-0.61 8.33 13.35 21.77 30.09 34.12 39.97 52.15 62.07" y="0" font-size="14.5">Prúd (mA)</text>
<text transform="translate(0,562) scale(1.0238,1)" x="107.45 116.25 124.59 129.10 137.62 146.42 150.99 159.61" y="0" font-size="14.5">28 12:00</text>
<text transform="translate(0,562) scale(1.0141,1)" x="191.31 200.20 208.58 213.18 221.78 230.64 235.27 243.92" y="0" font-size="14.5">28 12:05</text>
<text transform="translate(0,562) scale(1.0164,1)" x="273.66 282.53 290.90 295.48 304.06 312.90 317.45 326.21" y="0" font-size="14.5">28 12:10</text>
<text transform="translate(0,562) scale(0.9771,1)" x="369.70 378.92 387.47 392.40 401.32 410.44 415.26 424.30" y="0" font-size="14.5">28 12:15</text>
<text transform="translate(0,562) scale(1.0176,1)" x="437.40 446.26 454.63 459.19 467.76 476.60 481.03 489.88" y="0" font-size="14.5">28 12:20</text>
<text transform="translate(0,562) scale(0.9785,1)" x="540.88 550.09 558.63 563.55 572.45 581.56 586.25 595.41" y="0" font-size="14.5">28 12:25</text>
<text transform="translate(0,562) scale(0.9873,1)" x="620.03 629.16 637.66 642.49 651.32 660.37 665.20 674.12" y="0" font-size="14.5">28 12:30</text>
<text transform="translate(0,562) scale(0.9485,1)" x="734.07 743.57 752.26 757.46 766.64 775.98 781.09 790.32" y="0" font-size="14.5">28 12:35</text>
<text transform="translate(0,527) scale(1.0097,1)" x="61.68" y="0" font-size="14.5">0</text>
<text transform="translate(0,467) scale(1.0279,1)" x="41.85 50.62 59.21" y="0" font-size="14.5">200</text>
<text transform="translate(0,406) scale(0.9795,1)" x="44.30 53.32 62.33" y="0" font-size="14.5">400</text>
<text transform="translate(0,346) scale(0.9906,1)" x="43.89 52.80 61.71" y="0" font-size="14.5">600</text>
<text transform="translate(0,285) scale(1.0133,1)" x="42.81 51.53 60.24" y="0" font-size="14.5">800</text>
<text transform="translate(0,225) scale(1.0292,1)" x="33.03 41.68 50.26 58.84" y="0" font-size="14.5">1000</text>
<text transform="translate(0,164) scale(1.0198,1)" x="33.62 42.17 51.00 59.66" y="0" font-size="14.5">1200</text>
<text transform="translate(0,104) scale(1.0294,1)" x="33.02 41.67 50.25 58.82" y="0" font-size="14.5">1400</text>
<text transform="translate(0,62) scale(0.9938,1)" x="560.71 573.06 582.08 586.82 596.07 605.00 612.76 617.69 626.79 632.12 640.96" y="0" font-size="14.5">Meraný prúd</text>
<text transform="translate(0,83) scale(1.0212,1)" x="545.01 554.45 562.32 571.34 579.77 588.37 595.82 600.02 606.91 617.14 625.71 634.26 638.73 647.70 660.13 670.22" y="0" font-size="14.5">Spánok (&lt;35.0mA)</text>
<text transform="translate(0,105) scale(0.9640,1)" x="577.99 589.27 597.80 606.72 615.99 621.37 629.78 638.92 647.06 650.52 659.48 664.09 671.47 682.23 691.38 700.32 705.17 714.80 727.89 738.41" y="0" font-size="14.5">Hybernácia (&lt;55.0mA)</text>
<text transform="translate(0,126) scale(1.0299,1)" x="540.61 549.98 558.30 567.01 579.15 588.09 591.71 600.13 607.98 616.65 620.52 629.56 637.58 642.54 646.38 654.26 658.33 662.60 671.27 675.40 682.22 692.33 700.93 709.37 713.78 722.66 735.00 745.02" y="0" font-size="14.5">Spomalená aktivita (&lt;70.0mA)</text>
<text transform="translate(0,147) scale(1.0251,1)" x="543.31 552.27 556.05 563.94 572.64 576.54 585.63 593.68 598.66 602.52 610.43 614.51 618.82 627.51 631.67 638.53 648.63 657.32 665.93 674.40 678.84 687.78 700.16 710.22" y="0" font-size="14.5">Plná aktivita (&gt;100.0mA)</text>
</g>
</svg>
</body></html>
